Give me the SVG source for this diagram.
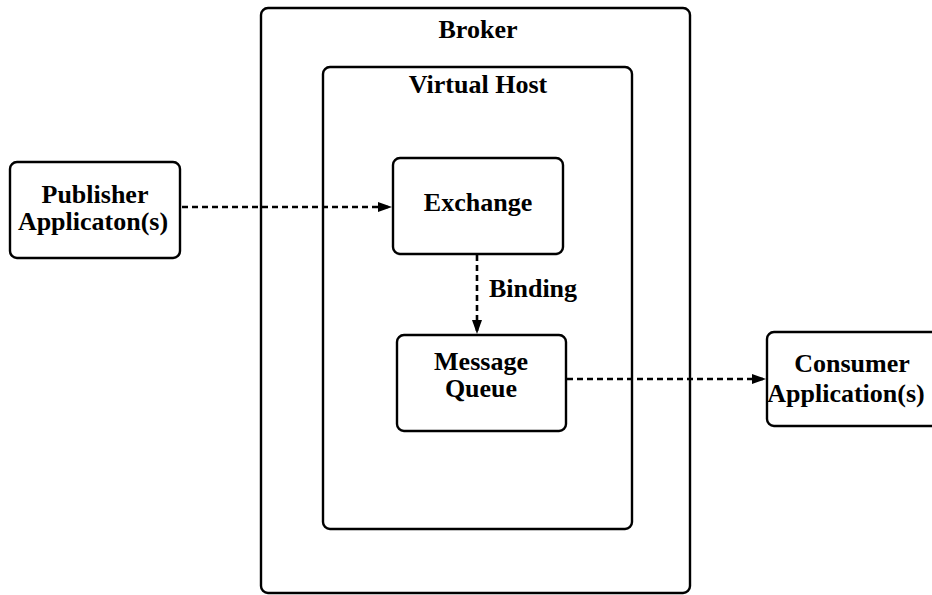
<svg xmlns="http://www.w3.org/2000/svg" width="932" height="595" viewBox="0 0 932 595">
<style>
.box{fill:none;stroke:#000;stroke-width:2.4}
.fill{fill:#fff;stroke:#000;stroke-width:2.4}
.t{font-family:"Liberation Serif","Times New Roman",serif;font-weight:bold;font-size:26px;fill:#000;text-anchor:middle}
.c{fill:none;stroke:#000;stroke-width:2.6;stroke-dasharray:6,4}
</style>
<defs>
<marker id="ah" viewBox="0 0 14 10" refX="14" refY="5" markerWidth="14" markerHeight="10" markerUnits="userSpaceOnUse" orient="auto">
<path d="M0,0 L14,5 L0,10 Z" fill="#000"/>
</marker>
</defs>
<rect width="932" height="595" fill="#fff"/>
<g id="broker">
<rect class="box" x="261" y="8" width="429" height="585" rx="7"/>
<text class="t" x="478" y="38">Broker</text>
</g>
<g id="vhost">
<rect class="box" x="323" y="67" width="309" height="462" rx="7"/>
<text class="t" x="478" y="93">Virtual Host</text>
</g>
<g id="publisher">
<rect class="fill" x="10" y="162" width="170" height="96" rx="7"/>
<text class="t" x="95" y="203">Publisher</text>
<text class="t" x="93" y="230">Applicaton(s)</text>
</g>
<g id="exchange">
<rect class="fill" x="393" y="158" width="170" height="96" rx="7"/>
<text class="t" x="478" y="211">Exchange</text>
</g>
<g id="queue">
<rect class="fill" x="397" y="335" width="169" height="96" rx="7"/>
<text class="t" x="481" y="370">Message</text>
<text class="t" x="481" y="397">Queue</text>
</g>
<g id="consumer">
<rect class="fill" x="767" y="332" width="172" height="94" rx="7"/>
<text class="t" x="852" y="372">Consumer</text>
<text class="t" x="846" y="402">Application(s)</text>
</g>
<g id="connectors">
<line class="c" x1="182" y1="207" x2="392" y2="207" marker-end="url(#ah)"/>
<line class="c" x1="477" y1="255" x2="477" y2="334" marker-end="url(#ah)"/>
<text class="t" x="533" y="297">Binding</text>
<line class="c" x1="567" y1="379" x2="766" y2="379" marker-end="url(#ah)"/>
</g>
</svg>
